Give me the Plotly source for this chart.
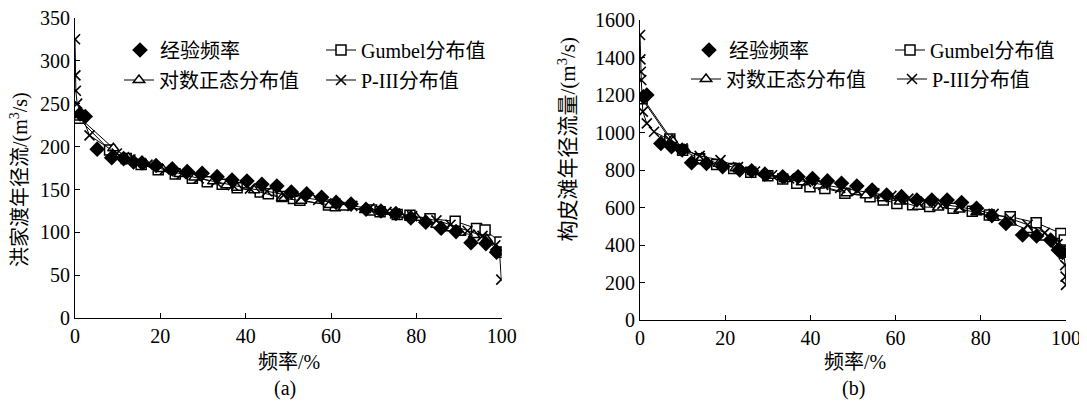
import plotly.graph_objects as go

W, H = 1087, 402          # target picture size
PAGE_OFF = 8              # default body margin of the html page
FW, FH = W - PAGE_OFF, H - PAGE_OFF

# ---------------- data: panel (a) 洪家渡 ----------------
emp_x_a = [1.2, 2.4, 5.2, 8.6, 11.4, 13.7, 15.7, 19.0, 22.8, 26.3, 29.8, 33.3, 36.8, 40.3, 43.8, 47.3,
           50.7, 54.3, 57.8, 61.2, 64.7, 68.2, 71.7, 75.2, 78.7, 82.2, 85.8, 89.3, 92.8, 96.3, 98.8]
emp_y_a = [238, 235, 197, 187, 186, 182, 181, 178, 174, 171, 169, 165, 161, 160, 156, 154,
           147, 145, 141, 135, 133, 127, 125, 122, 117, 112, 105, 101, 88, 87, 77]

gum_x_a = [0.8, 8.1, 12.0, 15.5, 19.5, 23.5, 27.5, 31.0, 34.5, 38.0, 43.4, 45.3, 48.5, 51.2,
           52.7, 59.4, 61.0, 69.5, 71.5, 75.5, 78.5, 83.2, 89.1, 94.1, 96.1, 99.6, 99.9]
gum_y_a = [233, 196, 186, 179, 173, 168, 163, 159, 156, 152, 147, 145, 142, 139.5,
           137.6, 132, 131, 126, 124, 121, 120, 116, 113, 104.6, 102.7, 89, 77]

logn_x_a = [1.0, 9.0, 12.5, 16.5, 20.5, 24.5, 28.0, 32.4, 35.5, 38.0, 42.0, 48.5, 53.0,
            59.7, 63.0, 68.0, 72.0, 76.0, 80.0, 84.7, 88.0, 90.3, 93.5, 96.5, 98.8, 99.8]
logn_y_a = [234, 198, 187, 180, 174, 168, 164, 159.5, 155, 152, 149, 140, 137,
            132, 129, 126, 124, 121, 117, 109, 105, 99.5, 97, 92, 80, 76]

p3_x_a = [0.01, 0.1, 0.2, 0.5, 3.4, 9.8, 13.0, 17.0, 21.0, 25.0, 29.0, 33.0, 37.0, 41.0, 45.0, 49.0,
          53.0, 57.0, 61.0, 65.0, 69.0, 73.0, 75.0, 79.0, 84.7, 88.0, 92.0, 95.5, 98.5, 99.5, 99.9]
p3_y_a = [325, 283, 265, 250, 213, 192, 185, 179, 173, 168, 163, 159, 155, 151, 148, 144,
          141, 138, 134, 131, 128, 124, 122, 119, 114, 109, 102, 96, 85, 77, 45]

# ---------------- data: panel (b) 构皮滩 ----------------
emp_x_b = [0.8, 1.6, 4.9, 7.4, 9.9, 12.1, 15.6, 19.4, 23.4, 26.2, 29.3, 33.5, 37.1, 40.5, 44.0, 47.3,
           50.9, 54.5, 57.9, 61.4, 65.0, 68.5, 72.1, 75.5, 79.0, 82.6, 85.9, 89.8, 93.1, 96.4, 98.2, 99.2]
emp_y_b = [1191, 1200, 942, 924, 907, 839, 835, 818, 800, 796, 778, 764, 764, 755, 742, 729,
           715, 693, 667, 658, 640, 640, 640, 627, 596, 556, 515, 453, 448, 427, 373, 360]

gum_x_b = [0.5, 7.0, 10.0, 14.0, 18.0, 22.0, 26.0, 30.0, 33.5, 36.8, 39.9, 43.4, 48.1,
           54.0, 57.1, 60.3, 64.0, 68.0, 73.5, 78.0, 82.0, 86.9, 93.0, 98.8, 99.6, 99.9]
gum_y_b = [1180, 965, 905, 860, 830, 808, 788, 770, 752, 730, 711, 702, 676,
           658, 640, 622, 615, 605, 596, 580, 560, 551, 519, 462, 427, 364]

logn_x_b = [0.6, 7.5, 10.5, 14.5, 18.5, 22.5, 26.5, 30.5, 34.0, 38.0, 42.0, 48.5, 53.0,
            57.0, 61.0, 65.3, 70.0, 75.0, 79.0, 83.0, 87.0, 91.0, 95.0, 98.0, 99.5]
logn_y_b = [1185, 960, 910, 865, 833, 810, 790, 770, 752, 735, 718, 676, 665,
            650, 632, 604, 600, 590, 575, 545, 520, 480, 440, 400, 350]

p3_x_b = [0.01, 0.1, 0.2, 0.3, 0.66, 1.6, 3.3, 7.0, 10.0, 14.0, 18.9, 23.0, 27.0, 31.0, 35.0,
          39.0, 43.0, 47.0, 51.0, 55.0, 59.0, 63.0, 67.0, 71.0, 75.0, 79.0, 83.0, 87.0, 91.0,
          95.0, 98.0, 99.5, 99.8, 99.9, 99.99]
p3_y_b = [1520, 1390, 1324, 1280, 1111, 1049, 1004, 960, 915, 875, 853, 815, 792, 772, 755,
          737, 720, 705, 690, 676, 662, 647, 633, 619, 603, 586, 566, 540, 508,
          465, 405, 350, 293, 231, 187]

x_ticks = [0, 20, 40, 60, 80, 100]
y_ticks_a = [0, 50, 100, 150, 200, 250, 300, 350]
y_ticks_b = [0, 200, 400, 600, 800, 1000, 1200, 1400, 1600]

names = ["经验频率", "Gumbel分布值", "对数正态分布值", "P-III分布值"]
y_title_a = "洪家渡年径流/(m<sup>3</sup>/s)"
y_title_b = "构皮滩年径流量/(m<sup>3</sup>/s)"
x_title = "频率/%"
captions = ["(a)", "(b)"]

FONT = "Liberation Serif, Noto Sans CJK SC, serif"
BLACK = "black"

fig = go.Figure()


def px_x(p):
    return (p - PAGE_OFF) / FW


def px_y(p):
    return (FH - (p - PAGE_OFF)) / FH


def add_panel(xa, ya, ex, ey, gx, gy, lx, ly, px3, py3, legs):
    fig.add_trace(go.Scatter(
        x=gx, y=gy, mode="lines+markers", name=names[1], xaxis=xa, yaxis=ya,
        line=dict(color=BLACK, width=1),
        marker=dict(symbol="square", size=10, color="white", line=dict(color=BLACK, width=1.5)),
        legend=legs[1]))
    fig.add_trace(go.Scatter(
        x=lx, y=ly, mode="lines+markers", name=names[2], xaxis=xa, yaxis=ya,
        line=dict(color=BLACK, width=1),
        marker=dict(symbol="triangle-up", size=10, color="white", line=dict(color=BLACK, width=1.5)),
        legend=legs[2]))
    fig.add_trace(go.Scatter(
        x=ex, y=ey, mode="markers", name=names[0], xaxis=xa, yaxis=ya,
        marker=dict(symbol="diamond", size=12, color=BLACK, line=dict(color=BLACK, width=0)),
        legend=legs[0]))
    fig.add_trace(go.Scatter(
        x=px3, y=py3, mode="lines+markers", name=names[3], xaxis=xa, yaxis=ya,
        line=dict(color=BLACK, width=1),
        marker=dict(symbol="x-thin", size=10, color=BLACK, line=dict(color=BLACK, width=1.6)),
        legend=legs[3]))


add_panel("x", "y", emp_x_a, emp_y_a, gum_x_a, gum_y_a, logn_x_a, logn_y_a, p3_x_a, p3_y_a,
          ["legend", "legend2", "legend3", "legend4"])
add_panel("x2", "y2", emp_x_b, emp_y_b, gum_x_b, gum_y_b, logn_x_b, logn_y_b, p3_x_b, p3_y_b,
          ["legend5", "legend6", "legend7", "legend8"])

axis_common = dict(
    showline=True, linecolor=BLACK, linewidth=1, mirror=False, showgrid=False, zeroline=False,
    ticks="inside", ticklen=5, tickwidth=1, tickcolor=BLACK, automargin=False,
    ticklabeloverflow="allow",
    tickfont=dict(family=FONT, size=20, color=BLACK),
)

# text starts (px) and row centers (px) for legend items
leg_pos = {
    "legend": (160, 52), "legend2": (361, 52), "legend3": (159, 82), "legend4": (361, 82),
    "legend5": (729, 52), "legend6": (930, 52), "legend7": (726, 81), "legend8": (932, 81),
}
TEXT_OFF = 40
legends = {}
for k, (tx, ty) in leg_pos.items():
    legends[k] = dict(
        x=px_x(tx - TEXT_OFF), y=px_y(ty - 2), xanchor="left", yanchor="middle",
        xref="paper", yref="paper", bgcolor="rgba(0,0,0,0)", borderwidth=0,
        font=dict(family=FONT, size=20, color=BLACK), itemsizing="trace",
    )

fig.update_layout(
    width=FW, height=FH, margin=dict(l=0, r=0, t=0, b=0, autoexpand=False),
    paper_bgcolor="white", plot_bgcolor="white",
    showlegend=True,
    xaxis=dict(domain=[px_x(75), px_x(501.7)], range=[0, 100], tickvals=x_ticks, anchor="y",
               **axis_common),
    yaxis=dict(domain=[px_y(318.3), px_y(17.8)], range=[0, 350], tickvals=y_ticks_a, anchor="x",
               **axis_common),
    xaxis2=dict(domain=[px_x(640), px_x(1066)], range=[0, 100], tickvals=x_ticks, anchor="y2",
                **axis_common),
    yaxis2=dict(domain=[px_y(320), px_y(20)], range=[0, 1600], tickvals=y_ticks_b, anchor="x2",
                **axis_common),
    **legends,
)

ann_font = dict(family=FONT, size=20, color=BLACK)
annotations = [
    dict(text=y_title_a, x=px_x(19), y=px_y(180), textangle=-90, font=ann_font),
    dict(text=y_title_b, x=px_x(567), y=px_y(139.5), textangle=-90, font=dict(family=FONT, size=21, color=BLACK)),
    dict(text=x_title, x=px_x(288.5), y=px_y(362), font=ann_font),
    dict(text=x_title, x=px_x(855), y=px_y(362), font=ann_font),
    dict(text=captions[0], x=px_x(285), y=px_y(388), font=ann_font),
    dict(text=captions[1], x=px_x(853.5), y=px_y(388), font=ann_font),
]
for a in annotations:
    a.update(xref="paper", yref="paper", xanchor="center", yanchor="middle", showarrow=False)
fig.update_layout(annotations=annotations)

fig.write_html("out.html")
